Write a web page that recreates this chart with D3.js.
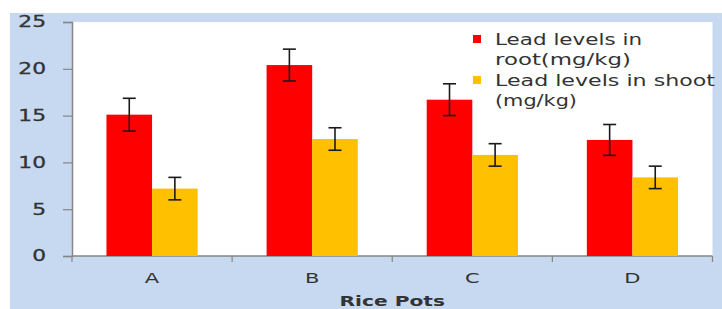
<!DOCTYPE html>
<html><head><meta charset="utf-8">
<script src="https://cdn.jsdelivr.net/npm/d3@7"></script>
<style>html,body{margin:0;padding:0;background:#fff;}svg{display:block;}</style>
</head><body>
<script>
const categories = ["A", "B", "C", "D"];
const seriesNames = ["Lead levels in root(mg/kg)", "Lead levels in shoot (mg/kg)"];
const rootValues = [15.1, 20.4, 16.7, 12.4];
const rootErrors = [1.75, 1.7, 1.7, 1.65];
const shootValues = [7.2, 12.5, 10.8, 8.4];
const shootErrors = [1.2, 1.2, 1.2, 1.2];
const yTicks = [0, 5, 10, 15, 20, 25];
const colors = ["#ff0000", "#ffc000"];

(function () {
const W = 722, H = 309;
const svg = d3.select("body").append("svg").attr("width", W).attr("height", H);
svg.append("rect").attr("x", 10).attr("y", 13).attr("width", W - 10).attr("height", H - 13).attr("fill", "#c6d9f0");

const pL = 72, pR = 712.5, pT = 22, pB = 256;
svg.append("rect").attr("x", pL).attr("y", pT).attr("width", pR - pL).attr("height", pB - pT).attr("fill", "#fff");

const x = d3.scaleBand().domain(categories).range([pL, pR]);
const y = d3.scaleLinear().domain([0, 25]).range([pB, pT]);
const barW = 45.6;
const groupW = barW * 2;

const font = "'DejaVu Sans', Verdana, sans-serif";
function stretch(sel, f) {
  sel.each(function () {
    const len = this.getComputedTextLength();
    d3.select(this).attr("textLength", len * f).attr("lengthAdjust", "spacingAndGlyphs");
  });
}

// y axis
const yAxis = svg.append("g").attr("transform", `translate(${pL},0)`)
  .call(d3.axisLeft(y).tickValues(yTicks).tickSize(9).tickPadding(17).tickFormat(d3.format("d")));
yAxis.select(".domain").attr("stroke", "#868686").attr("stroke-width", 1.5);
yAxis.selectAll(".tick line").attr("stroke", "#868686").attr("stroke-width", 1.2);
yAxis.selectAll("text").attr("font-family", font).attr("font-size", 15).attr("fill", "#333").attr("stroke", "#333").attr("stroke-width", 0.3);
stretch(yAxis.selectAll("text"), 1.45);

// x axis
const xAxis = svg.append("g").attr("transform", `translate(0,${pB})`);
xAxis.append("line").attr("x1", pL).attr("x2", pR).attr("y1", 0).attr("y2", 0).attr("stroke", "#868686").attr("stroke-width", 1.5);
const bounds = categories.map(c => x(c)).concat([x(categories[categories.length - 1]) + x.bandwidth()]);
xAxis.selectAll(".xt").data(bounds).join("line").attr("x1", d => d).attr("x2", d => d).attr("y1", 0).attr("y2", 6).attr("stroke", "#868686").attr("stroke-width", 1.2);
const xl = xAxis.selectAll(".xl").data(categories).join("text")
  .attr("x", d => x(d) + x.bandwidth() / 2).attr("y", 27).attr("text-anchor", "middle")
  .attr("font-family", font).attr("font-size", 14).attr("fill", "#333").text(d => d);
stretch(xl, 1.5);

// bars
const series = [
  {vals: rootValues, errs: rootErrors, color: colors[0], off: 0},
  {vals: shootValues, errs: shootErrors, color: colors[1], off: 1}
];
series.forEach(s => {
  const g = svg.append("g");
  g.selectAll("rect").data(categories).join("rect")
    .attr("x", (c) => x(c) + x.bandwidth() / 2 - groupW / 2 + s.off * barW)
    .attr("y", (c, i) => y(s.vals[i]))
    .attr("width", barW)
    .attr("height", (c, i) => pB - y(s.vals[i]))
    .attr("fill", s.color);
});
series.forEach(s => {
  const g = svg.append("g").attr("stroke", "#1a1a1a").attr("stroke-width", 1.6);
  categories.forEach((c, i) => {
    const cx = x(c) + x.bandwidth() / 2 - groupW / 2 + s.off * barW + barW / 2;
    const y1 = y(s.vals[i] + s.errs[i]), y2 = y(s.vals[i] - s.errs[i]);
    g.append("line").attr("x1", cx).attr("x2", cx).attr("y1", y1).attr("y2", y2);
    g.append("line").attr("x1", cx - 6.5).attr("x2", cx + 6.5).attr("y1", y1).attr("y2", y1);
    g.append("line").attr("x1", cx - 6.5).attr("x2", cx + 6.5).attr("y1", y2).attr("y2", y2);
  });
});

// x title
const xt = svg.append("text").attr("x", (pL + pR) / 2).attr("y", 306).attr("text-anchor", "middle")
  .attr("font-family", font).attr("font-size", 14).attr("font-weight", "bold").attr("fill", "#333").text("Rice Pots");
stretch(xt, 1.44);

// legend
const legendLines = [["Lead levels in", "root(mg/kg)"], ["Lead levels in shoot", "(mg/kg)"]];
const legendWidths = [[147, 136], [220, 82]];
legendLines.forEach((lines, i) => {
  const baseY = 45 + i * 41;
  svg.append("rect").attr("x", 473).attr("y", baseY - 10).attr("width", 8).attr("height", 8).attr("fill", colors[i]);
  lines.forEach((t, j) => {
    svg.append("text").attr("x", 495).attr("y", baseY + j * 19.5)
      .attr("font-family", font).attr("font-size", 15).attr("fill", "#333")
      .attr("textLength", legendWidths[i][j]).attr("lengthAdjust", "spacingAndGlyphs").text(t);
  });
});
})();
</script>
</body></html>
